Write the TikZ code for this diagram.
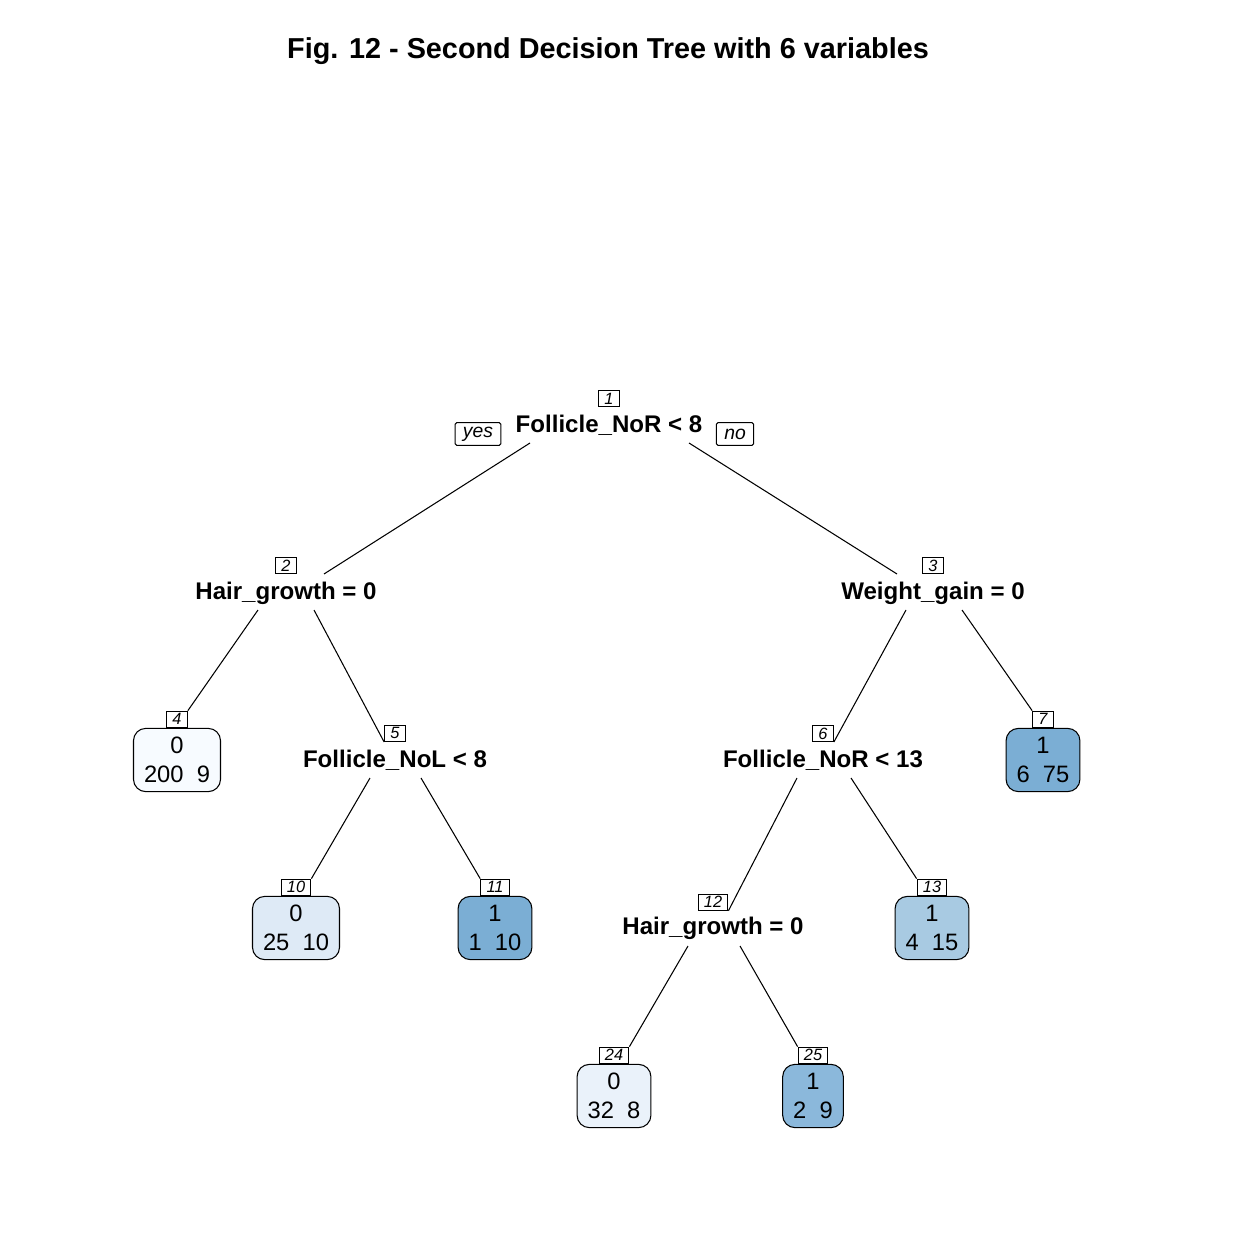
\documentclass[tikz,border=0pt]{standalone}
\usepackage{fontspec}
\setmainfont{Liberation Sans}
\usetikzlibrary{positioning,calc}

\definecolor{leafA}{HTML}{F7FBFF}
\definecolor{leafB}{HTML}{DEEAF6}
\definecolor{leafC}{HTML}{EAF2FA}
\definecolor{leafD}{HTML}{7BAED4}
\definecolor{leafE}{HTML}{A8CAE2}
\definecolor{leafF}{HTML}{8BB8DB}

\begin{document}
\begin{tikzpicture}[x=0.02cm, y=-0.02cm, line width=0.6pt,
    split/.style={anchor=base, inner sep=0pt, font=\fontsize{13.7}{16}\selectfont\bfseries},
    leaf/.style={draw, rounded corners=7pt, align=center, inner xsep=6pt, inner ysep=0pt,
        minimum height=36pt, font=\fontsize{13.5}{16.4}\selectfont},
    num/.style={draw, fill=white, inner xsep=3.3pt, inner ysep=0pt, minimum height=9.2pt,
        font=\fontsize{9.3}{9.3}\selectfont\itshape},
    yesno/.style={draw, rounded corners=1pt, inner xsep=4.5pt, inner ysep=0pt, minimum height=13pt,
        font=\fontsize{11}{11}\selectfont\itshape}]
    \useasboundingbox[fill=white] (0,0) rectangle (1244,1240);

    % titre
    \node[font=\fontsize{16.4}{18}\selectfont\bfseries] (title) at (608,51)
        {Fig. 12 - Second Decision Tree with 6 variables};

    % noeuds de decision
    \node[split] (s1) at (609,432) {Follicle\_NoR < 8};
    \node[split] (s2) at (286,599) {Hair\_growth = 0};
    \node[split] (s3) at (933,599) {Weight\_gain = 0};
    \node[split] (s5) at (395,767) {Follicle\_NoL < 8};
    \node[split] (s6) at (823,767) {Follicle\_NoR < 13};
    \node[split] (s12) at (713,934) {Hair\_growth = 0};

    \node[yesno] (yes) at (478,434) {yes};
    \node[yesno] (no) at (735,434) {no};

    % feuilles
    \node[leaf, fill=leafA] (l4) at (177,760) {0\\200\ \ 9};
    \node[leaf, fill=leafD] (l7) at (1043,760) {1\\6\ \ 75};
    \node[leaf, fill=leafB] (l10) at (296,928) {0\\25\ \ 10};
    \node[leaf, fill=leafD] (l11) at (495,928) {1\\1\ \ 10};
    \node[leaf, fill=leafE] (l13) at (932,928) {1\\4\ \ 15};
    \node[leaf, fill=leafC] (l24) at (614,1096) {0\\32\ \ 8};
    \node[leaf, fill=leafF] (l25) at (813,1096) {1\\2\ \ 9};

    % numeros
    \node[num, above=4pt of s1] (n1) {1};
    \node[num, above=4pt of s2] (n2) {2};
    \node[num, above=4pt of s3] (n3) {3};
    \node[num, above=4pt of s5] (n5) {5};
    \node[num, above=4pt of s6] (n6) {6};
    \node[num, above=3pt of s12] (n12) {12};
    \node[num, above=0pt of l4] (n4) {4};
    \node[num, above=0pt of l7] (n7) {7};
    \node[num, above=0pt of l10] (n10) {10};
    \node[num, above=0pt of l11] (n11) {11};
    \node[num, above=0pt of l13] (n13) {13};
    \node[num, above=0pt of l24] (n24) {24};
    \node[num, above=0pt of l25] (n25) {25};

    % branches
    \draw ($(s1.base)+(-79,11)$) -- ($(s2.base)+(38,-25)$);
    \draw ($(s1.base)+(80,11)$) -- ($(s3.base)+(-36,-25)$);
    \draw ($(s2.base)+(-28,11)$) -- (n4.north east);
    \draw ($(s2.base)+(28,11)$) -- (n5.south west);
    \draw ($(s3.base)+(-27,11)$) -- (n6.south east);
    \draw ($(s3.base)+(29,11)$) -- (n7.north west);
    \draw ($(s5.base)+(-25,11)$) -- (n10.north east);
    \draw ($(s5.base)+(26,11)$) -- (n11.north west);
    \draw ($(s6.base)+(-26,11)$) -- (n12.south east);
    \draw ($(s6.base)+(28,11)$) -- (n13.north west);
    \draw ($(s12.base)+(-25,12)$) -- (n24.north east);
    \draw ($(s12.base)+(27,12)$) -- (n25.north west);
\end{tikzpicture}
\end{document}
